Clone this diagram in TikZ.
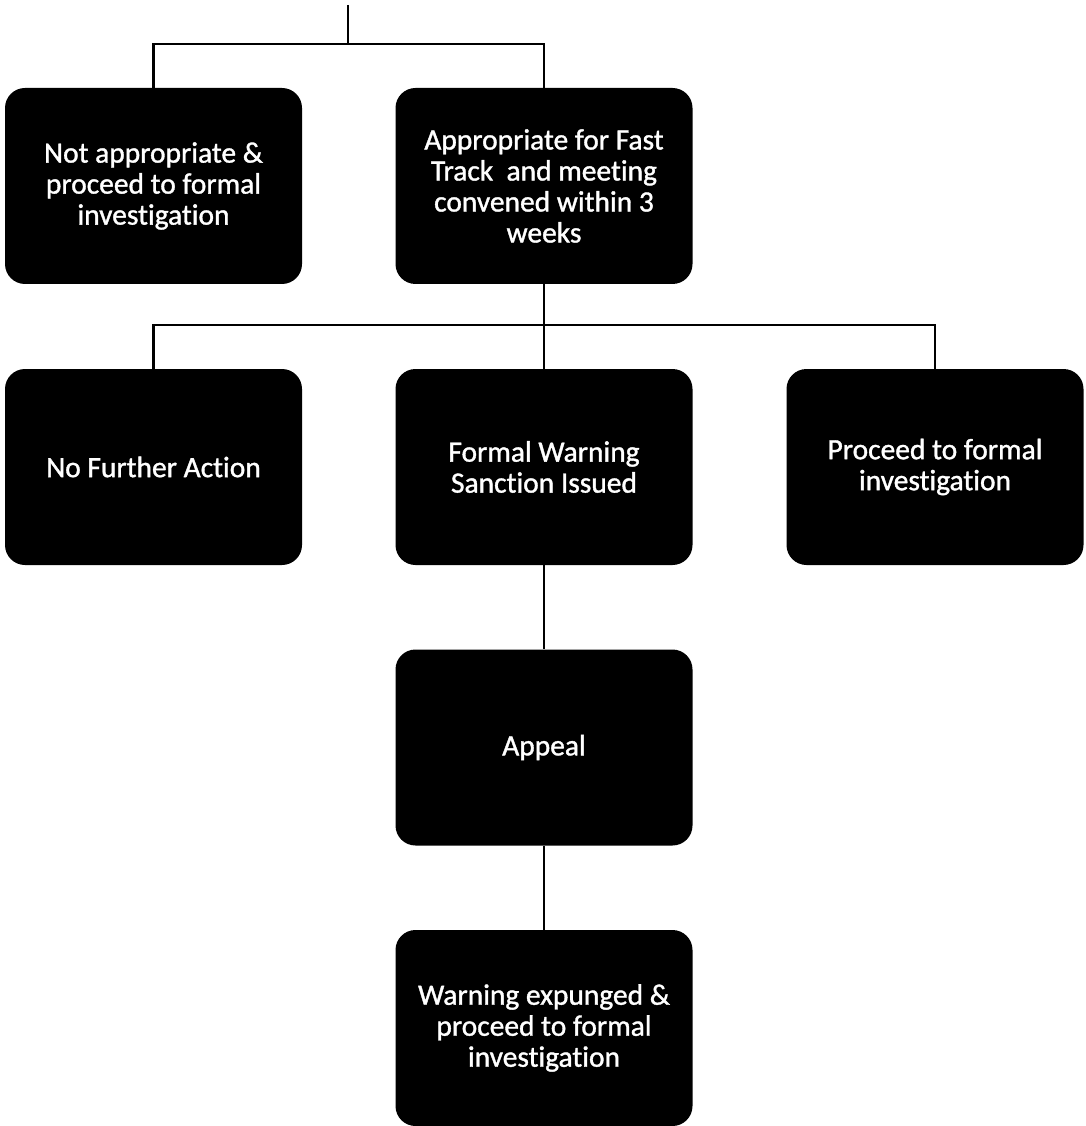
\documentclass[tikz,border=0pt]{standalone}
\usepackage{fontspec}
\setmainfont[Ligatures={NoCommon},FakeBold=1.2]{Carlito}
\begin{document}
\begin{tikzpicture}[x=0.75pt,y=-0.75pt,
  box/.style={fill=black,draw=none,rounded corners=15pt,minimum width=222.75pt,minimum height=147pt,
    text=white,align=center,inner sep=0pt,font=\fontsize{22.1pt}{23.25pt}\selectfont},
  conn/.style={draw=black,line width=1.9pt}]
\useasboundingbox (0,0) rectangle (1085,1126);
\node[box] (a) at (153.5,186) {Not appropriate \&\\proceed to formal\\investigation};
\node[box] (b) at (544,186) {Appropriate for Fast\\Track\ \ and meeting\\convened within 3\\weeks};
\node[box] (c) at (153.5,467) {No Further Action};
\node[box] (d) at (544,467) {Formal Warning\\Sanction Issued};
\node[box] (e) at (935,467) {Proceed to formal\\investigation};
\node[box] (f) at (544,747.5) {Appeal};
\node[box] (g) at (544,1028) {Warning expunged \&\\proceed to formal\\investigation};
\coordinate (top) at (348,5);
\coordinate (j1) at (348,44);
\coordinate (j2) at (544,325);
\draw[conn] (top) -- (j1);
\draw[conn] (a.north) |- (j1) -| (b.north);
\draw[conn] (b.south) -- (d.north);
\draw[conn] (c.north) |- (j2) -| (e.north);
\draw[conn] (d.south) -- (f.north);
\draw[conn] (f.south) -- (g.north);
\end{tikzpicture}
\end{document}
